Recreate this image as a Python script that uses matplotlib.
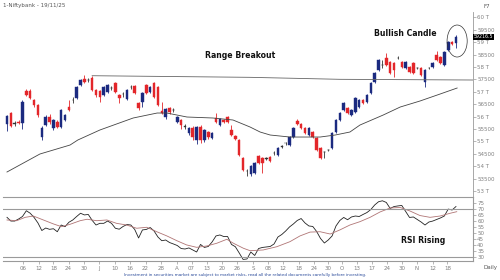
import numpy as np
import matplotlib
matplotlib.use("Agg")
import matplotlib.pyplot as plt
from matplotlib.patches import Ellipse, Rectangle

# Nifty Bank daily candles (O, H, L, C)
opens = [55680, 56140, 55700, 55790, 55740, 57030, 57030, 56665, 56464, 55170,
         55650, 56000, 55540, 55780, 55580, 55860, 56380, 56650, 56740, 57270,
         57510, 57470, 57550, 57070, 57030, 56870, 56990, 57130, 57350, 56870,
         56900, 56710, 57180, 57230, 56550, 56590, 57270, 56990, 57350, 57190,
         56220, 55980, 56340, 56250, 55780, 55860, 55600, 55330, 55540, 55050,
         55580, 55050, 55380, 55130, 55940, 55660, 55860, 55980, 55460, 55210,
         55053, 54330, 53800, 53680, 53720, 54410, 54330, 54300, 54370, 54510,
         54450, 54790, 54920, 54850, 55170, 55820, 55700, 55540, 55250, 55380,
         55130, 54730, 54560, 54640, 54730, 55370, 55860, 56260, 56340, 56060,
         56180, 56380, 56665, 56590, 56950, 57390, 57880, 58060, 58360, 58200,
         58160, 58350, 58200, 57960, 58000, 58160, 57950, 57960, 57390, 57950,
         58000, 58480, 58400, 58080, 58680, 59000, 58960]
highs = [56080, 56200, 55800, 55850, 56650, 57120, 57100, 56720, 56500, 55600,
         56050, 56100, 55900, 55850, 56300, 56100, 56650, 56780, 57230, 57520,
         57670, 57560, 57640, 57120, 57080, 57230, 57310, 57220, 57400, 56920,
         56980, 57110, 57260, 57280, 56600, 57000, 57320, 57230, 57400, 57230,
         56580, 56340, 56400, 56340, 56020, 55900, 55680, 55580, 55600, 55620,
         55650, 55500, 55430, 55370, 56140, 55940, 55920, 56020, 55660, 55260,
         55100, 54380, 53900, 54040, 54160, 54450, 54380, 54380, 54410, 54600,
         54770, 54870, 54990, 55210, 55580, 55900, 55740, 55580, 55580, 55420,
         55170, 54770, 54620, 54700, 55370, 55900, 56180, 56590, 56400, 56300,
         56790, 56700, 56710, 56910, 57390, 57800, 58320, 58280, 58560, 58240,
         58200, 58440, 58240, 58240, 58040, 58200, 58000, 58000, 57910, 58000,
         58200, 58640, 58440, 58640, 59040, 59040, 59290]
lows = [55420, 55560, 55600, 55700, 55500, 56820, 56700, 56400, 56000, 55050,
        55600, 55700, 55450, 55520, 55540, 55800, 56220, 56560, 56700, 57220,
        57350, 57400, 57030, 56800, 56600, 56820, 56950, 57080, 56950, 56560,
        56800, 56650, 57120, 56900, 56250, 56400, 56900, 56950, 56750, 56420,
        56100, 55900, 56100, 56180, 55740, 55500, 55480, 55250, 55050, 54900,
        54950, 54960, 55100, 55080, 55740, 55620, 55740, 55740, 55200, 55050,
        54400, 53800, 53620, 53620, 53680, 54090, 53720, 54250, 54170, 54450,
        54400, 54740, 54860, 54800, 55130, 55660, 55500, 55290, 55200, 55130,
        54610, 54290, 54330, 54590, 54690, 55330, 55820, 56220, 56100, 56020,
        56140, 56340, 56510, 56550, 56910, 57350, 57840, 57960, 58040, 57720,
        57600, 58300, 57960, 57900, 57760, 57720, 57900, 57630, 57200, 57900,
        57960, 58240, 58120, 58040, 58640, 58880, 58760]
closes = [56010, 55620, 55710, 55740, 56590, 56870, 56750, 56464, 56060, 55540,
          56000, 55760, 55860, 55580, 56260, 56060, 56260, 56680, 57190, 57470,
          57390, 57480, 57070, 56870, 56790, 57190, 57270, 57150, 56990, 56750,
          56910, 57070, 57190, 56950, 56340, 56950, 56950, 57190, 56790, 56464,
          56140, 56300, 56180, 56260, 55980, 55660, 55580, 55540, 55170, 55580,
          55050, 55460, 55170, 55330, 55780, 55900, 55780, 55780, 55254, 55090,
          54448, 53843, 53820, 54000, 54120, 54130, 54130, 54330, 54210, 54530,
          54730, 54810, 54930, 55170, 55540, 55700, 55540, 55330, 55540, 55170,
          54650, 54330, 54570, 54650, 55330, 55860, 56140, 56550, 56140, 56260,
          56750, 56665, 56550, 56870, 57350, 57760, 58280, 58080, 58080, 57760,
          57880, 58360, 58000, 58200, 57800, 57760, 57960, 57670, 57870, 57960,
          58160, 58280, 58160, 58600, 59000, 58920, 59216.5]

# long moving average, sampled along the curve
ma_idx = [0, 8.5, 16.3, 18.3, 24, 32.6, 38.8, 41.3, 46.5, 53.2, 58.4, 62.8,
          65.4, 68, 73.1, 80.9, 84.8, 88.6, 91.2, 97.2, 101.6, 106.7, 111.9, 116.3]
ma_val = [53763, 54488, 54851, 55053, 55456, 55940, 56141, 56141, 55980, 55940,
          55859, 55577, 55375, 55254, 55173, 55173, 55254, 55375, 55657, 56060,
          56383, 56625, 56907, 57149]

# range breakout line
range_idx = [22, 62.8, 86, 120.4]
range_val = [57645, 57580, 57500, 57472]

rsi = [63.3, 60.2, 60.2, 61.9, 64, 68.8, 66.7, 63.2, 58.6, 52.3,
       54.4, 53.3, 53.8, 51.3, 56.9, 55.5, 59.2, 61.1, 64, 66.7,
       65.3, 65.7, 60.8, 56.9, 58.3, 58.3, 60.2, 58.3, 54.2, 53.4,
       55.7, 57.3, 56.9, 53.2, 46.1, 52.8, 53.2, 54.8, 51.9, 46.9,
       43.8, 44.4, 42.3, 41.1, 39.8, 37.3, 36.9, 37.8, 36.1, 34.4,
       40.7, 38.2, 39, 42.8, 47.8, 48.6, 47.3, 47.3, 40.7, 38.8,
       33.6, 28.2, 28.6, 34.4, 31.5, 37.3, 38.2, 38.6, 39, 41.1,
       46.9, 49, 51.9, 55.3, 57.8, 60.7, 62.3, 58.6, 56.1, 55.7,
       51.5, 45.7, 41.9, 44.4, 47.8, 56.1, 60.7, 63.2, 61.3, 63.6,
       64.4, 64, 65.7, 67.3, 69.8, 73.6, 76.3, 77.1, 75.7, 70.7,
       72.3, 72.8, 73.2, 68.2, 63.2, 63.6, 61.5, 59.4, 56.9, 59.4,
       60.2, 61.5, 62.8, 64.4, 70.2, 69.4, 72.3]

sig_idx = [0, 2.5, 4.7, 6.8, 9.4, 12, 14.1, 16.3, 18.9, 20.7, 23.2, 25.8, 28.3,
           30.9, 33.5, 36.1, 38.7, 41.3, 43.9, 46.4, 49, 51.6, 54.2, 56.8, 58.5,
           61.1, 62.8, 66.2, 69.7, 73.1, 75.7, 78.3, 80.9, 83.5, 86, 88.6, 91.2,
           93.8, 96.4, 99, 101.6, 104.1, 106.7, 109.3, 111.9, 114.5, 116.2]
sig_val = [61.1, 60.5, 63.3, 64.4, 61.1, 57.8, 55.5, 57.5, 60.5, 61.7, 60.5, 61.1,
           58.3, 56.9, 54.2, 55, 51.3, 47.8, 43.8, 40.3, 38.3, 39.4, 41.7, 45,
           41.7, 37.5, 35.5, 36.1, 38.8, 43, 47.8, 51, 51.3, 49.4, 52.8, 56.9,
           59.7, 63.3, 67.8, 71.1, 71.5, 68.6, 64.8, 63.3, 64.4, 66.7, 68]

tick_pos = [4.1, 8.2, 12, 15.9, 20, 23.9, 27.8, 31.8, 35.8, 39.9, 43.9, 47.7,
            51.6, 55.5, 59.5, 63.6, 67.5, 71.4, 75.5, 79.3, 82.9, 86.5, 90.5,
            94.2, 98.1, 102, 105.9, 110, 113.8]
tick_lbl = ['06', '12', '18', '24', '30', 'J', '10', '16', '22', '28', 'A', '07',
            '13', '20', '26', 'S', '08', '12', '18', '24', '30', 'O', '13', '17',
            '24', '30', 'N', '12', '18']

BLUE = '#1b2a80'
RED = '#e3262a'
GRID = '#9a9a9a'
LBL = '#808080'

fig = plt.figure(figsize=(5, 2.8), dpi=100)
ax = fig.add_axes([3 / 500, 1 - 197 / 280, 470 / 500, 185 / 280])
ax2 = fig.add_axes([3 / 500, 1 - 261 / 280, 470 / 500, 64 / 280])

# candles
for i in range(len(opens)):
    o, h, l, c = opens[i], highs[i], lows[i], closes[i]
    if abs(c - o) < 40:
        col = '#333333'
    elif c > o:
        col = BLUE
    else:
        col = RED
    ax.plot([i, i], [l, h], color=col, lw=0.6, solid_capstyle='butt')
    bot = min(o, c)
    ht = max(abs(c - o), 20)
    ax.add_patch(Rectangle((i - 0.33, bot), 0.66, ht, facecolor=col, edgecolor=col, lw=0.3))

ax.plot(ma_idx, ma_val, color='#444444', lw=0.6)
ax.plot(range_idx, range_val, color='#666666', lw=0.6)

ax.add_patch(Ellipse((116.3, 59044), 5.2, 1290, fill=False, edgecolor='#333333', lw=0.5))
ax.text(60.2, 58480, 'Range Breakout', ha='center', va='center', fontsize=5.6,
        fontweight='bold', color='#111111')
ax.text(102.8, 59330, 'Bullish Candle', ha='center', va='center', fontsize=5.6,
        fontweight='bold', color='#111111')

ax.set_xlim(-1.03, 120.4)
ax.set_ylim(52755, 60214)
yt = list(range(53000, 60001, 500))
ax.set_yticks(yt)
ax.set_yticklabels([f'{v // 1000} T' if v % 1000 == 0 else str(v) for v in yt])
ax.yaxis.tick_right()
ax.tick_params(axis='y', length=2, width=0.5, colors=GRID, labelsize=4, labelcolor=LBL, pad=1)
ax.set_xticks([])
for s in ['top', 'left', 'bottom']:
    ax.spines[s].set_visible(False)
ax.spines['right'].set_color(GRID)
ax.spines['right'].set_linewidth(0.6)
ax.text(1.002, 59216.5, '59216.5', transform=ax.get_yaxis_transform(), fontsize=3.4,
        color='white', va='center', ha='left',
        bbox=dict(boxstyle='square,pad=0.12', facecolor='black', edgecolor='none'))

# RSI panel
ax2.plot(range(len(rsi)), rsi, color='#222222', lw=0.6)
ax2.plot(sig_idx, sig_val, color='#b07575', lw=0.6)
ax2.axhline(70, color=GRID, lw=0.8)
ax2.axhline(30, color=GRID, lw=0.8)
ax2.text(107.5, 44.4, 'RSI Rising', ha='center', va='center', fontsize=5.6,
         fontweight='bold', color='#111111')
ax2.set_xlim(-1.03, 120.4)
ax2.set_ylim(26.9, 80.25)
ax2.set_yticks(range(30, 76, 5))
ax2.yaxis.tick_right()
ax2.tick_params(axis='y', length=2, width=0.5, colors=GRID, labelsize=4, labelcolor=LBL, pad=1)
ax2.set_xticks(tick_pos)
ax2.set_xticklabels(tick_lbl)
ax2.tick_params(axis='x', length=2, width=0.5, colors=GRID, labelsize=4, labelcolor=LBL, pad=1.5)
ax2.spines['left'].set_visible(False)
for s in ['top', 'bottom', 'right']:
    ax2.spines[s].set_color(GRID)
    ax2.spines[s].set_linewidth(0.8)

fig.text(3 / 500, 1 - 6 / 280, '1-Niftybank - 19/11/25', fontsize=4, color='#555555', va='center')
fig.text(483 / 500, 1 - 6 / 280, 'F7', fontsize=4, color='#555555', va='center')
fig.text(490 / 500, 1 - 268 / 280, 'Daily', fontsize=4, color='#555555', va='center', ha='center')
fig.text(245 / 500, 1 - 275 / 280,
         'Investment in securities market are subject to market risks, read all the related documents carefully before investing.',
         fontsize=3, color='#2a4a9a', va='center', ha='center',
         family=['Liberation Sans Narrow', 'DejaVu Sans'])

fig.savefig('out.png', dpi=100)
